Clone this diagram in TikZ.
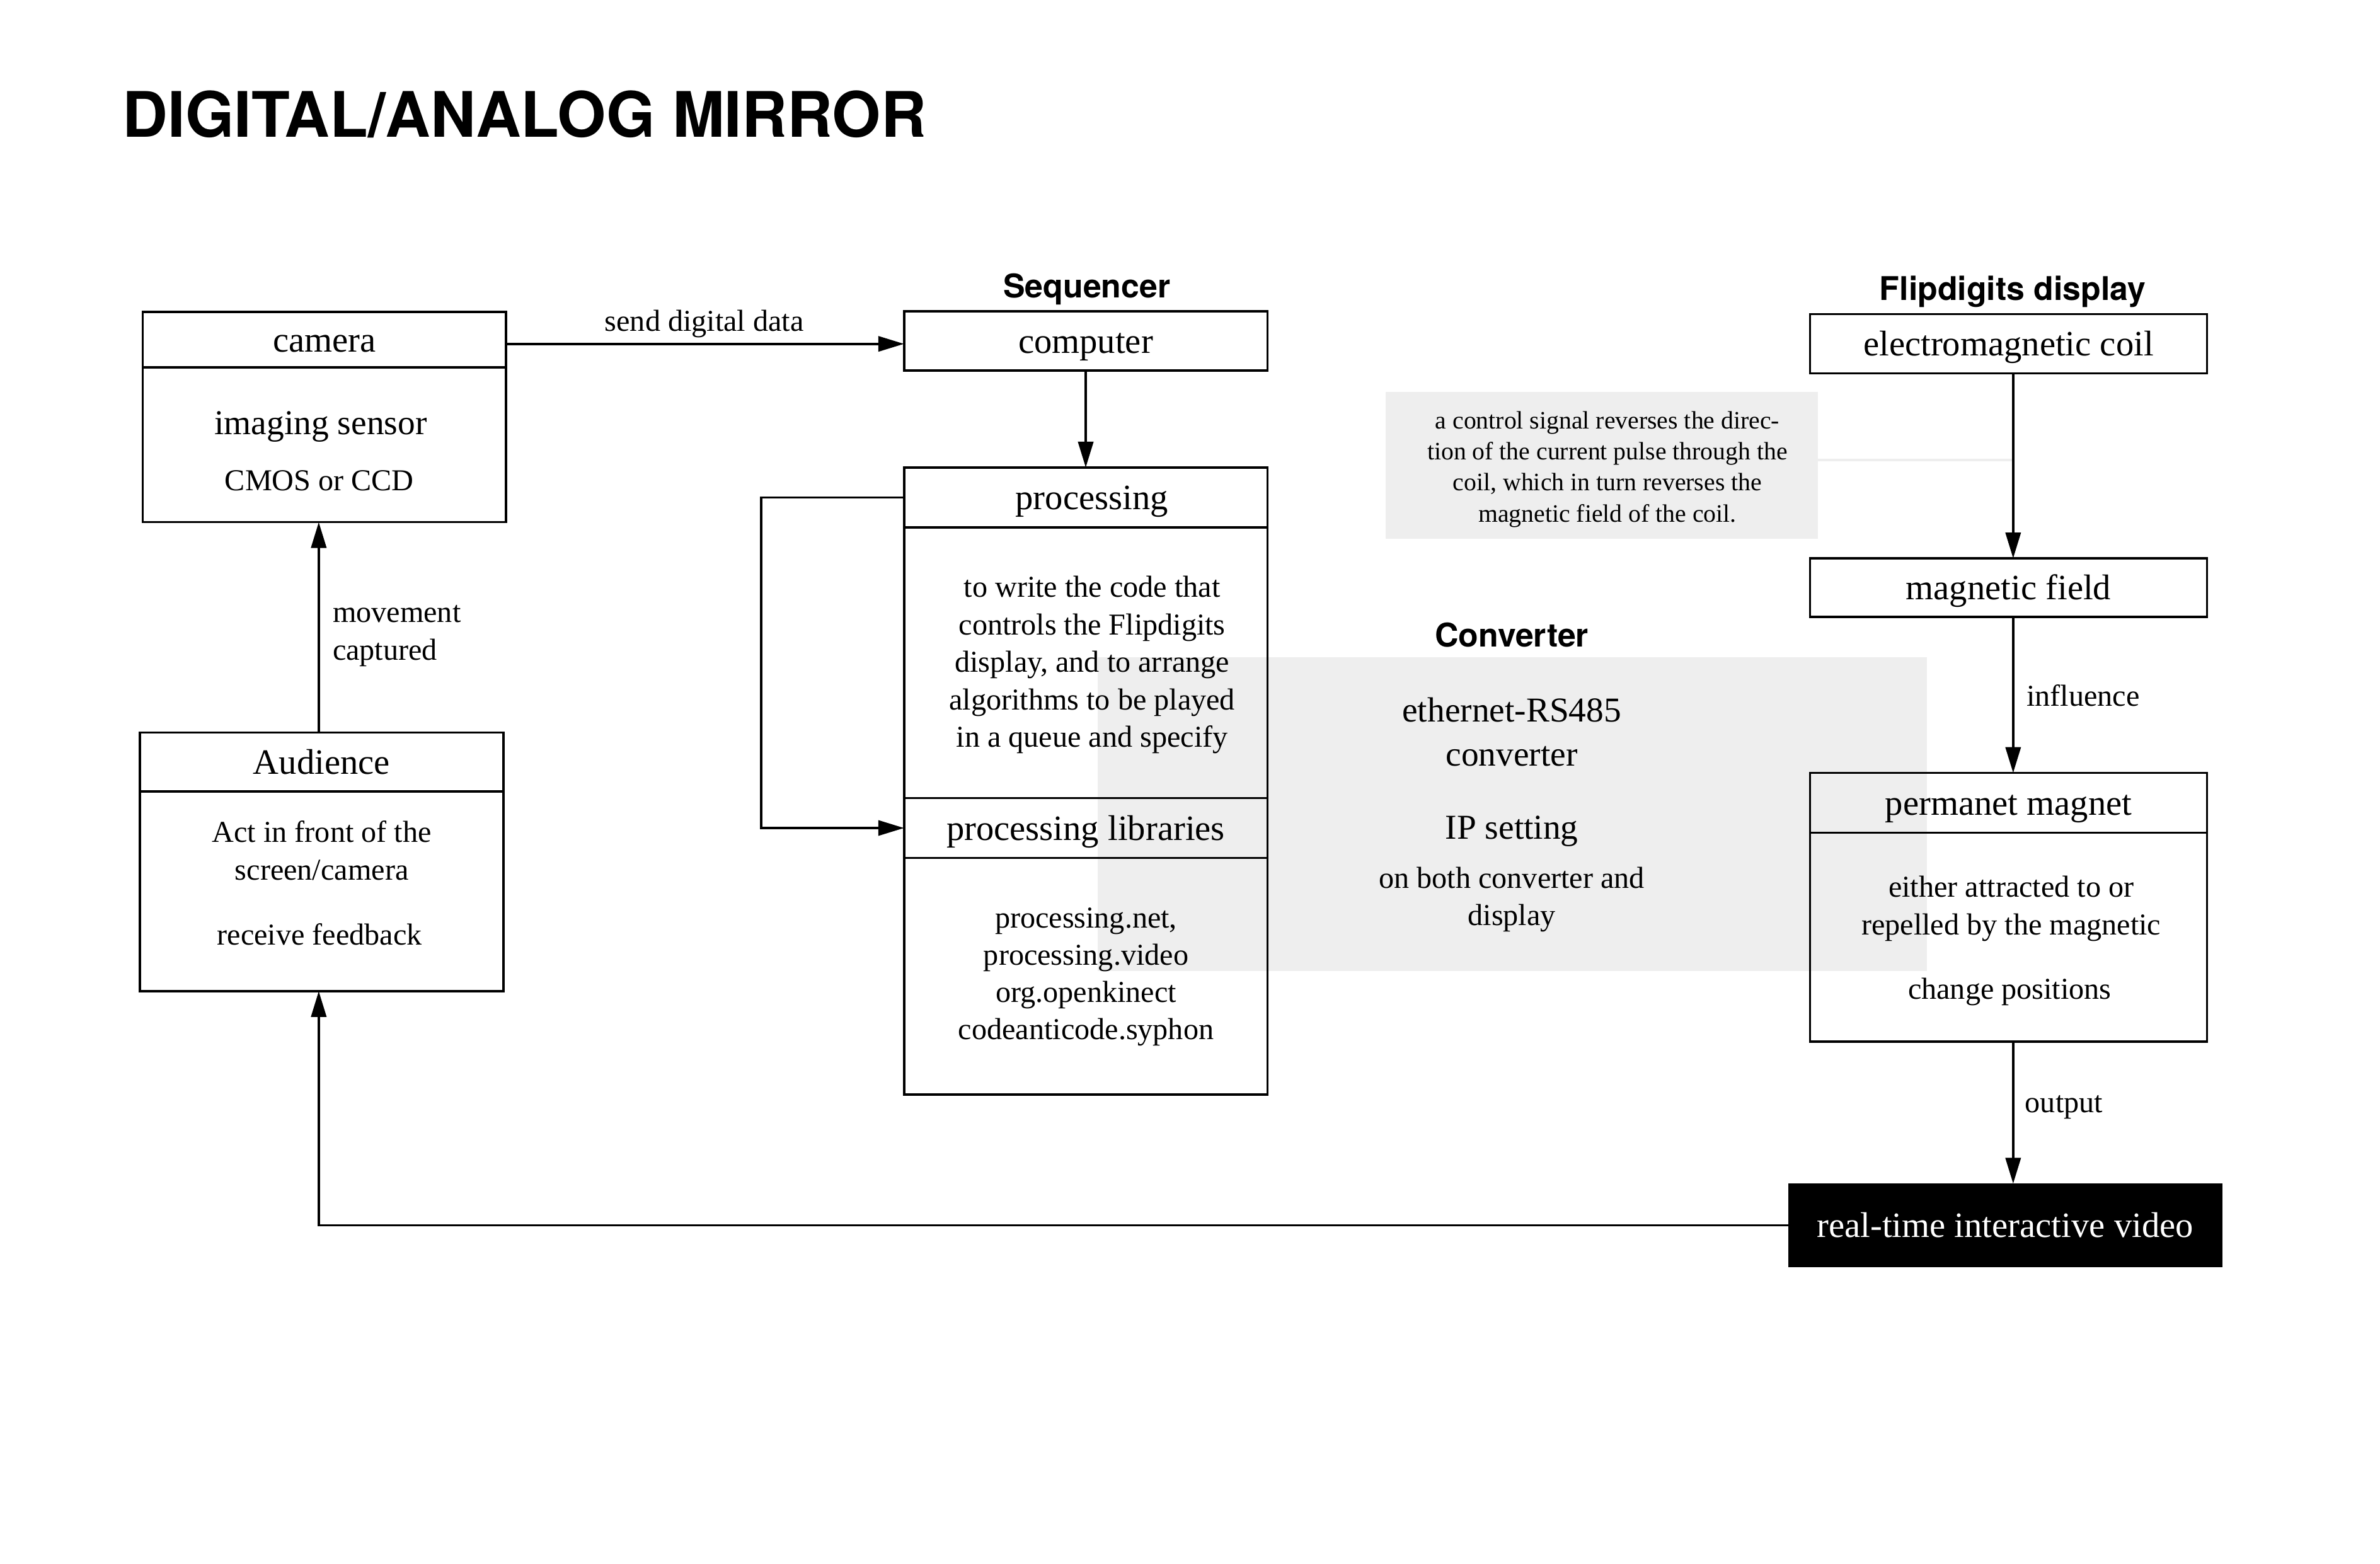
\documentclass[tikz,border=0pt]{standalone}
\usepackage{fontspec}
\setmainfont{Liberation Serif}
\newfontfamily\headfont{TeX Gyre Heros}
\usetikzlibrary{arrows.meta,positioning}
\definecolor{panelgray}{HTML}{EEEEEE}
\tikzset{box/.style={draw,line width=1.5pt,inner sep=0pt,outer sep=0pt,minimum width=239.4pt},
    hdbox/.style={box,minimum height=#1,font=\fontsize{23.5}{28}\selectfont,text height=19pt,text depth=3pt},
    part/.style={box,minimum height=#1},
    panel/.style={fill=panelgray,inner sep=0pt,outer sep=0pt,anchor=north west},
    bigtxt/.style={font=\fontsize{23}{28}\selectfont,anchor=base,inner sep=0pt},
    txt/.style={font=\fontsize{20}{25}\selectfont,anchor=base,inner sep=0pt},
    notetxt/.style={font=\fontsize{16.5}{20}\selectfont,anchor=base,inner sep=0pt},
    grouplabel/.style={font=\headfont\bfseries\fontsize{21.5}{26}\selectfont,anchor=base,inner sep=0pt},
    flow/.style={line width=1.5pt,-{Triangle[length=17pt,width=10pt]}}}
\begin{document}
\begin{tikzpicture}[x=1pt,y=-1pt]
\useasboundingbox (0,0) rectangle (1568,1030);
\node[font=\headfont\bfseries\fontsize{41.3}{48}\selectfont,anchor=base west,inner sep=0pt] (title) at (80.6,90.4) {DIGITAL/ANALOG MIRROR};
% grey panels under the boxes
\node[panel,minimum width=546.3pt,minimum height=207pt] (convpanel) at (723,432.8) {};
\node[panel,minimum width=284.8pt,minimum height=96.8pt] (note) at (912.8,258.1) {};
\coordinate (colx) at (1326.3,303);
\coordinate (fbx) at (210,807.5);
\draw[panelgray,line width=1.5pt] (note.east |- colx) -- (colx);
% left column
\node[hdbox=36.5pt,anchor=north west] (camhead) at (94,205.5) {camera};
\node[part=102pt,below=0pt of camhead] (cambody) {};
\node[bigtxt] (imaging) at (211.3,286.4) {imaging sensor};
\node[txt] (cmos) at (210.4,323) {CMOS or CCD};
\node[hdbox=38.8pt,anchor=north west] (audhead) at (92.2,482.6) {Audience};
\node[part=131.6pt,below=0pt of audhead] (audbody) {};
\node[txt] (act1) at (212,554.9) {Act in front of the};
\node[txt] (act2) at (212,579.8) {screen/camera};
\node[txt] (feedback) at (210.5,622.3) {receive feedback};
\node[txt,anchor=base west] (moved1) at (219,410) {movement};
\node[txt,anchor=base west] (moved2) at (219,435) {captured};
% sequencer
\node[grouplabel] (seqlabel) at (716,196.2) {Sequencer};
\node[hdbox=39pt,anchor=north west] (computer) at (595.6,205.1) {computer};
\node[hdbox=39.4pt,anchor=north west] (prochead) at (595.6,308) {\hspace{8pt}processing};
\node[part=178.4pt,below=0pt of prochead] (procbody) {};
\node[hdbox=39.4pt,below=0pt of procbody] (libhead) {processing libraries};
\node[part=156pt,below=0pt of libhead] (libbody) {};
\foreach \ln [count=\i] in {to write the code that, controls the Flipdigits, {display, and to arrange}, algorithms to be played, in a queue and specify}
  \node[txt] (proc\i) at (719.5,368.7+24.7*\i) {\ln};
\foreach \ln [count=\i] in {{processing.net,}, processing.video, org.openkinect, codeanticode.syphon}
  \node[txt] (lib\i) at (715.5,586.8+24.5*\i) {\ln};
\node[txt] (sendlbl) at (464,218) {send digital data};
% converter
\node[grouplabel] (convlabel) at (996,426.2) {Converter};
\node[bigtxt] (eth) at (996,475.7) {ethernet-RS485};
\node[bigtxt] (convtxt) at (996,504.8) {converter};
\node[bigtxt] (ipset) at (996,552.8) {IP setting};
\node[txt] (both1) at (996,585.3) {on both converter and};
\node[txt] (both2) at (996,609.5) {display};
\foreach \ln [count=\i] in {a control signal reverses the direc-, tion of the current pulse through the, {coil, which in turn reverses the}, magnetic field of the coil.}
  \node[notetxt] (note\i) at (1059,261.8+20.5*\i) {\ln};
% flipdigits display
\node[grouplabel] (fliplabel) at (1326,198) {Flipdigits display};
\node[hdbox=39pt,minimum width=261.5pt,anchor=north west] (coil) at (1192.5,207) {electromagnetic coil};
\node[hdbox=38.5pt,minimum width=261.5pt,anchor=north west] (field) at (1192.5,367.8) {magnetic field};
\node[hdbox=39.4pt,minimum width=261.5pt,anchor=north west] (permhead) at (1192.5,509.2) {permanet magnet};
\node[part=137.7pt,minimum width=261.5pt,below=0pt of permhead] (permbody) {};
\node[txt] (perm1) at (1325,591.1) {either attracted to or};
\node[txt] (perm2) at (1325,616) {repelled by the magnetic};
\node[txt] (perm3) at (1324,658.4) {change positions};
\node[txt,anchor=base west] (inflbl) at (1335,465) {influence};
\node[txt,anchor=base west] (outlbl) at (1334,733) {output};
\node[fill=black,text=white,inner sep=0pt,outer sep=0pt,minimum width=286pt,minimum height=55pt,font=\fontsize{23.5}{28}\selectfont,text height=19pt,text depth=3pt,anchor=north west] (video) at (1178,779.8) {real-time interactive video};
% connectors
\draw[flow] ([yshift=-2.8pt]camhead.east) -- ([yshift=-2.8pt]camhead.east -| computer.west);
\draw[flow] (computer.south) -- (prochead.north);
\draw[flow] (prochead.west) -- ++(-94,0) |- (libhead.west);
\draw[flow] (audhead.north -| fbx) -- (cambody.south -| fbx);
\draw[flow] (video.west) -| (audbody.south -| fbx);
\draw[flow] (coil.south -| colx) -- (field.north -| colx);
\draw[flow] (field.south -| colx) -- (permhead.north -| colx);
\draw[flow] (permbody.south -| colx) -- (video.north -| colx);
\end{tikzpicture}
\end{document}
